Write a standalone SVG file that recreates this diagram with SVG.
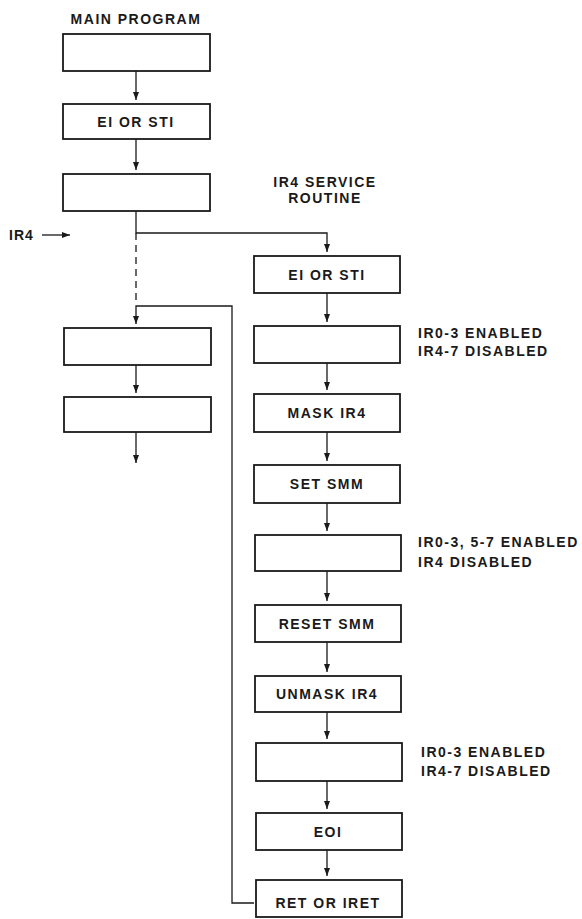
<svg xmlns="http://www.w3.org/2000/svg" width="582" height="919" viewBox="0 0 582 919">
<style>
.box{fill:#fff;stroke:#1a1a1a;stroke-width:1.8}
.t{font-family:"Liberation Sans",Arial,sans-serif;font-weight:bold;font-size:14px;letter-spacing:1.5px;fill:#1a1a1a}
.c{text-anchor:middle}
.ln{fill:none;stroke:#1a1a1a;stroke-width:1.3}
.dash{stroke-dasharray:7 5}
</style>
<defs>
<marker id="ar" viewBox="0 0 8 6" refX="8" refY="3" markerWidth="8" markerHeight="6" markerUnits="userSpaceOnUse" orient="auto">
<path d="M0,0 L8,3 L0,6 Z" fill="#1a1a1a"/>
</marker>
</defs>
<rect width="582" height="919" fill="#fff"/>
<text class="t c" x="136" y="24">MAIN PROGRAM</text>
<text class="t c" x="325" y="187">IR4 SERVICE</text>
<text class="t c" x="325" y="203">ROUTINE</text>
<text class="t" x="9" y="240" style="letter-spacing:1px">IR4</text>
<text class="t" x="418" y="338">IR0-3 ENABLED</text>
<text class="t" x="418" y="356">IR4-7 DISABLED</text>
<text class="t" x="418" y="547">IR0-3, 5-7 ENABLED</text>
<text class="t" x="418" y="567">IR4 DISABLED</text>
<text class="t" x="421" y="757">IR0-3 ENABLED</text>
<text class="t" x="421" y="776">IR4-7 DISABLED</text>
<g id="connectors">
<path class="ln" d="M136,71 V100" marker-end="url(#ar)"/>
<path class="ln" d="M136,139 V170" marker-end="url(#ar)"/>
<path class="ln" d="M136,211 V233 H327 V252" marker-end="url(#ar)"/>
<path class="ln dash" d="M136,233 V300"/>
<path class="ln" d="M254,903 H232 V306 H136 V324" marker-end="url(#ar)"/>
<path class="ln" d="M136,365 V393" marker-end="url(#ar)"/>
<path class="ln" d="M136,432 V463" marker-end="url(#ar)"/>
<path class="ln" d="M42,235 H70" marker-end="url(#ar)"/>
<path class="ln" d="M327,293 V322" marker-end="url(#ar)"/>
<path class="ln" d="M327,363 V390" marker-end="url(#ar)"/>
<path class="ln" d="M327,432 V461" marker-end="url(#ar)"/>
<path class="ln" d="M327,503 V531" marker-end="url(#ar)"/>
<path class="ln" d="M327,571 V601" marker-end="url(#ar)"/>
<path class="ln" d="M327,642 V672" marker-end="url(#ar)"/>
<path class="ln" d="M327,712 V739" marker-end="url(#ar)"/>
<path class="ln" d="M327,781 V809" marker-end="url(#ar)"/>
<path class="ln" d="M327,850 V876" marker-end="url(#ar)"/>
</g>
<g id="m1"><rect class="box" x="63" y="34" width="147" height="37"/></g>
<g id="m2"><rect class="box" x="63" y="104" width="147" height="35"/><text class="t c" x="136" y="127">EI OR STI</text></g>
<g id="m3"><rect class="box" x="63" y="174" width="147" height="37"/></g>
<g id="m4"><rect class="box" x="64" y="328" width="147" height="37"/></g>
<g id="m5"><rect class="box" x="64" y="397" width="147" height="35"/></g>
<g id="s1"><rect class="box" x="254" y="256" width="146" height="37"/><text class="t c" x="327" y="280">EI OR STI</text></g>
<g id="s2"><rect class="box" x="254" y="326" width="146" height="37"/></g>
<g id="s3"><rect class="box" x="254" y="394" width="146" height="38"/><text class="t c" x="327" y="418">MASK IR4</text></g>
<g id="s4"><rect class="box" x="254" y="465" width="146" height="38"/><text class="t c" x="327" y="489">SET SMM</text></g>
<g id="s5"><rect class="box" x="255" y="535" width="146" height="36"/></g>
<g id="s6"><rect class="box" x="255" y="605" width="146" height="37"/><text class="t c" x="327" y="629">RESET SMM</text></g>
<g id="s7"><rect class="box" x="255" y="676" width="146" height="36"/><text class="t c" x="327" y="699">UNMASK IR4</text></g>
<g id="s8"><rect class="box" x="256" y="743" width="146" height="38"/></g>
<g id="s9"><rect class="box" x="256" y="813" width="146" height="37"/><text class="t c" x="328" y="837">EOI</text></g>
<g id="s10"><rect class="box" x="256" y="880" width="146" height="37"/><text class="t c" x="328" y="908">RET OR IRET</text></g>
</svg>
